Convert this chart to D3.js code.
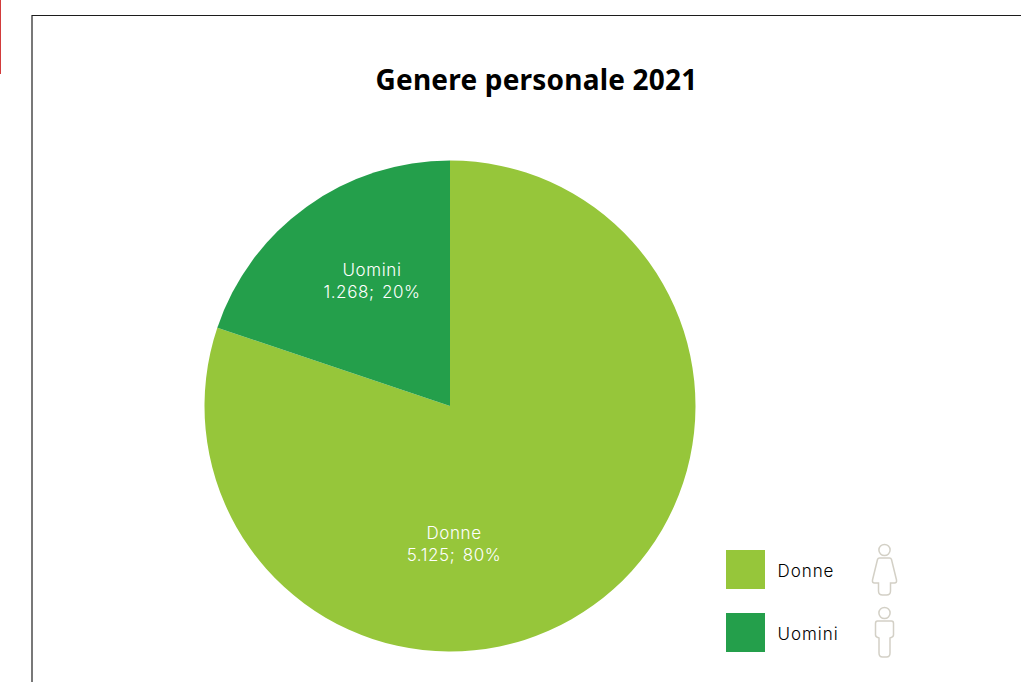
<!DOCTYPE html>
<html>
<head>
<meta charset="utf-8">
<script src="https://cdn.jsdelivr.net/npm/d3@7/dist/d3.min.js"></script>
<style>
html,body{margin:0;padding:0;background:#fff;overflow:hidden}
svg{display:block}
</style>
</head>
<body>
<svg id="chart" width="1021" height="682"></svg>
<script>
// Staff headcount by gender
const categories = ["Donne", "Uomini"];
const headcount = [5125, 1268];
const displayValues = ["5.125", "1.268"];
const shares = ["80%", "20%"];
const colors = ["#96c63a", "#249f4b"];
const titleText = "Genere personale 2021";

const svg = d3.select("#chart");
const labelFont = "Inter, 'Noto Sans', sans-serif";

// Page furniture: red margin rule and chart frame
svg.append("rect").attr("x", 0).attr("y", 0).attr("width", 1).attr("height", 74).attr("fill", "#d23b3b");
svg.append("rect").attr("x", 31).attr("y", 15).attr("width", 2).attr("height", 667).attr("fill", "#787878");
svg.append("rect").attr("x", 32).attr("y", 15).attr("width", 989).attr("height", 1).attr("fill", "#1c1c1c");

svg.append("text")
  .attr("x", 536.5).attr("y", 90)
  .attr("text-anchor", "middle")
  .attr("font-family", "'Noto Sans', sans-serif")
  .attr("font-weight", 700).attr("font-size", 28)
  .attr("letter-spacing", 0.2)
  .attr("fill", "#000")
  .text(titleText);

// Pie: clockwise from 12 o'clock, Donne first
const center = [450, 406];
const radius = 245.5;
const pie = d3.pie().sort(null).value(d => d.value);
const arc = d3.arc().innerRadius(0).outerRadius(radius);
const rows = categories.map((name, i) => ({
  name, value: headcount[i], shown: displayValues[i], share: shares[i], color: colors[i]
}));

const plot = svg.append("g").attr("transform", `translate(${center})`);
plot.selectAll("path").data(pie(rows)).join("path")
  .attr("d", arc)
  .attr("fill", d => d.data.color);

// Slice captions, offset from the pie centre
const captionOffset = { Donne: [4, 127], Uomini: [-78, -136] };
const captions = plot.selectAll("g.caption").data(rows).join("g")
  .attr("class", "caption")
  .attr("transform", d => `translate(${captionOffset[d.name]})`)
  .attr("text-anchor", "middle")
  .attr("font-family", labelFont)
  .attr("font-weight", 300)
  .attr("font-size", 17)
  .attr("letter-spacing", 0.6)
  .attr("word-spacing", 2)
  .attr("fill", "#fff");
captions.append("text").attr("y", 6).text(d => d.name);
captions.append("text").attr("y", 28).text(d => `${d.shown}; ${d.share}`);

// Legend with pictograms
const legendY = d3.scaleBand().domain(categories).range([550, 652]).paddingInner(24 / 63);
const legend = svg.selectAll("g.legend").data(rows).join("g")
  .attr("class", "legend")
  .attr("transform", d => `translate(726,${legendY(d.name)})`);
legend.append("rect")
  .attr("width", 39).attr("height", legendY.bandwidth())
  .attr("fill", d => d.color);
legend.append("text")
  .attr("x", 51.5).attr("y", 26.5)
  .attr("font-family", labelFont)
  .attr("font-weight", 300).attr("font-size", 17)
  .attr("letter-spacing", 0.95)
  .attr("fill", "#000")
  .text(d => d.name);

// Pictogram outlines, measured from the head centre
const pictograms = {
  Donne: "M-5,8 L5,8 Q6.5,8 7,9.5 L12,30 Q12.5,33 10,33 L6,33 L6,41 Q6,45 2,45 L-2,45 Q-6,45 -6,41 L-6,33 L-10,33 Q-12.5,33 -12,30 L-7,9.5 Q-6.5,8 -5,8 Z",
  Uomini: "M-7,8 L7,8 Q9,8 9,10.5 L9,22 Q9,24 5.5,25 L5.5,40 Q5.5,44 2,44 L-2,44 Q-5.5,44 -5.5,40 L-5.5,25 Q-9,24 -9,22 L-9,10.5 Q-9,8 -7,8 Z"
};
const figure = legend.append("g")
  .attr("transform", "translate(158.5,0)")
  .attr("fill", "none")
  .attr("stroke", "#d3d0c6")
  .attr("stroke-width", 1.5);
figure.append("circle").attr("cy", 0).attr("r", 5.6);
figure.append("path").attr("d", d => pictograms[d.name]);
</script>
</body>
</html>
